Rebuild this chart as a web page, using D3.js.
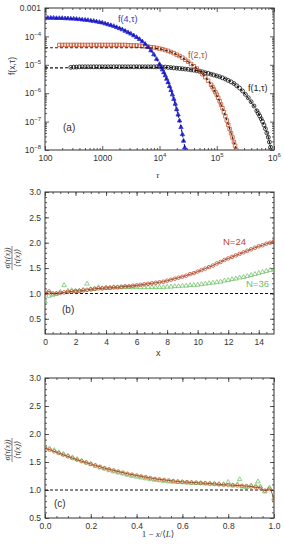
<!DOCTYPE html>
<html>
<head>
<meta charset="utf-8">
<script src="https://cdnjs.cloudflare.com/ajax/libs/d3/7.8.5/d3.min.js"></script>
<style>
    body { margin: 0; background: #fff; }
    svg { display: block; font-family: "Liberation Sans", Arial, sans-serif; }
    .tick text { fill: #333; font-size: 8.5px; }
    .domain { display: none; }
    .tick line { stroke: #333; stroke-width: 0.8; }
</style>
</head>
<body>
<svg id="chart" width="284" height="550"></svg>
<script>
// ---- panel (a): [log10 tau, log10 f]
var f4Data = [[2.05,-3.35],[2.10,-3.35],[2.15,-3.35],[2.20,-3.36],[2.25,-3.36],[2.30,-3.36],[2.35,-3.37],[2.40,-3.37],
    [2.45,-3.38],[2.50,-3.38],[2.55,-3.39],[2.60,-3.40],[2.65,-3.41],[2.70,-3.42],[2.75,-3.43],[2.80,-3.45],[2.85,-3.46],
    [2.90,-3.48],[2.95,-3.50],[3.00,-3.52],[3.05,-3.55],[3.10,-3.58],[3.15,-3.61],[3.20,-3.64],[3.25,-3.68],[3.30,-3.72],
    [3.35,-3.76],[3.40,-3.81],[3.45,-3.86],[3.50,-3.91],[3.55,-3.97],[3.60,-4.03],[3.65,-4.10],[3.70,-4.18],[3.75,-4.27],
    [3.80,-4.38],[3.85,-4.50],[3.90,-4.64],[3.95,-4.80],[4.00,-4.98],[4.025,-5.07],[4.05,-5.17],[4.075,-5.27],[4.10,-5.38],
    [4.125,-5.50],[4.15,-5.62],[4.175,-5.76],[4.20,-5.90],[4.225,-6.05],[4.25,-6.21],[4.275,-6.38],[4.30,-6.57],
    [4.325,-6.76],[4.35,-6.97],[4.375,-7.20],[4.40,-7.45],[4.42,-7.68],[4.44,-7.92]];

var f2Data = [[2.25,-4.30],[2.30,-4.30],[2.35,-4.30],[2.40,-4.30],[2.45,-4.30],[2.50,-4.30],[2.55,-4.30],[2.60,-4.30],
    [2.65,-4.30],[2.70,-4.30],[2.75,-4.30],[2.80,-4.30],[2.85,-4.30],[2.90,-4.30],[2.95,-4.30],[3.00,-4.30],[3.05,-4.30],
    [3.10,-4.30],[3.15,-4.30],[3.20,-4.30],[3.25,-4.30],[3.30,-4.30],[3.35,-4.30],[3.40,-4.30],[3.45,-4.31],[3.50,-4.31],
    [3.55,-4.32],[3.60,-4.32],[3.65,-4.33],[3.70,-4.34],[3.75,-4.35],[3.80,-4.36],[3.85,-4.38],[3.90,-4.39],[3.95,-4.41],
    [4.00,-4.43],[4.05,-4.45],[4.10,-4.48],[4.15,-4.51],[4.20,-4.55],[4.25,-4.59],[4.30,-4.64],[4.35,-4.69],[4.40,-4.75],
    [4.45,-4.82],[4.50,-4.89],[4.55,-4.97],[4.60,-5.05],[4.65,-5.13],[4.70,-5.22],[4.75,-5.33],[4.80,-5.44],[4.85,-5.56],
    [4.90,-5.70],[4.925,-5.78],[4.95,-5.87],[4.975,-5.96],[5.00,-6.05],[5.025,-6.16],[5.05,-6.28],[5.075,-6.40],
    [5.10,-6.53],[5.125,-6.67],[5.15,-6.81],[5.175,-6.96],[5.20,-7.11],[5.225,-7.26],[5.25,-7.41],[5.275,-7.56],
    [5.30,-7.72],[5.32,-7.85],[5.34,-7.99]];

var f1Data = [[2.45,-5.09],[2.50,-5.08],[2.55,-5.08],[2.60,-5.07],[2.65,-5.07],[2.70,-5.07],[2.75,-5.07],[2.80,-5.07],
    [2.85,-5.07],[2.90,-5.07],[2.95,-5.07],[3.00,-5.07],[3.05,-5.07],[3.10,-5.07],[3.15,-5.07],[3.20,-5.07],[3.25,-5.07],
    [3.30,-5.07],[3.35,-5.07],[3.40,-5.07],[3.45,-5.07],[3.50,-5.07],[3.55,-5.07],[3.60,-5.07],[3.65,-5.07],[3.70,-5.07],
    [3.75,-5.07],[3.80,-5.07],[3.85,-5.07],[3.90,-5.07],[3.95,-5.07],[4.00,-5.07],[4.05,-5.08],[4.10,-5.08],[4.15,-5.09],
    [4.20,-5.10],[4.25,-5.11],[4.30,-5.12],[4.35,-5.13],[4.40,-5.14],[4.45,-5.15],[4.50,-5.16],[4.55,-5.18],[4.60,-5.19],
    [4.65,-5.21],[4.70,-5.23],[4.75,-5.25],[4.80,-5.28],[4.85,-5.30],[4.90,-5.33],[4.95,-5.36],[5.00,-5.39],[5.05,-5.42],
    [5.10,-5.46],[5.15,-5.50],[5.20,-5.55],[5.25,-5.60],[5.30,-5.66],[5.35,-5.74],[5.40,-5.82],[5.45,-5.92],[5.50,-6.04],
    [5.55,-6.16],[5.60,-6.30],[5.65,-6.45],[5.70,-6.62],[5.725,-6.71],[5.75,-6.80],[5.775,-6.90],[5.80,-7.00],
    [5.825,-7.12],[5.85,-7.25],[5.875,-7.40],[5.90,-7.55],[5.92,-7.72],[5.94,-7.90]];

// dashed fit curves of panel (a)
var fit4 = [[2.0,-3.35],[2.5,-3.38],[3.0,-3.52],[3.5,-3.91],[3.8,-4.38],[4.0,-4.98],[4.2,-5.90],[4.3,-6.57],[4.4,-7.45],[4.46,-8.1]];
var fit2 = [[2.0,-4.40],[3.0,-4.40],[3.8,-4.40],[4.2,-4.55],[4.5,-4.89],[4.7,-5.22],[4.9,-5.70],[5.1,-6.53],[5.3,-7.72],[5.36,-8.1]];
var fit1 = [[2.0,-5.11],[3.0,-5.10],[4.0,-5.09],[4.5,-5.16],[5.0,-5.39],[5.3,-5.66],[5.5,-6.04],[5.7,-6.62],[5.8,-7.00],[5.9,-7.55],[5.96,-8.1]];

var aXTicks = [100, 1000, 1e4, 1e5, 1e6];
var aXLabels = [["100"], ["1000"], ["10", "4"], ["10", "5"], ["10", "6"]];
var aYTicks = [1e-3, 1e-4, 1e-5, 1e-6, 1e-7, 1e-8];
var aYLabels = [["0.001"], ["10", "-4"], ["10", "-5"], ["10", "-6"], ["10", "-7"], ["10", "-8"]];

// ---- panel (b): sigma/mean vs x
var bX = [0,0.25,0.5,0.75,1,1.25,1.5,1.75,2,2.25,2.5,2.75,3,3.25,3.5,3.75,4,4.25,4.5,4.75,5,5.25,5.5,5.75,6,6.25,6.5,6.75,
    7,7.25,7.5,7.75,8,8.25,8.5,8.75,9,9.25,9.5,9.75,10,10.25,10.5,10.75,11,11.25,11.5,11.75,12,12.25,12.5,12.75,13,13.25,
    13.5,13.75,14,14.25,14.5,14.75,15];
var bN24 = [1.00,1.04,1.00,1.00,1.01,1.02,1.03,1.04,1.05,1.05,1.06,1.07,1.08,1.09,1.10,1.10,1.11,1.11,1.12,1.12,1.13,1.14,
    1.14,1.15,1.16,1.17,1.18,1.19,1.20,1.21,1.22,1.23,1.25,1.27,1.29,1.31,1.33,1.35,1.38,1.40,1.43,1.46,1.49,1.52,1.55,
    1.59,1.62,1.66,1.69,1.72,1.75,1.78,1.81,1.84,1.87,1.90,1.93,1.95,1.98,2.00,2.03];
var bN36 = [0.84,0.95,0.97,0.99,1.03,1.16,1.05,1.06,1.04,1.05,1.07,1.19,1.08,1.09,1.12,1.10,1.11,1.11,1.12,1.12,1.12,1.12,
    1.12,1.12,1.12,1.12,1.12,1.12,1.12,1.12,1.12,1.12,1.13,1.13,1.14,1.14,1.15,1.15,1.16,1.16,1.17,1.18,1.19,1.20,1.21,
    1.22,1.23,1.25,1.26,1.28,1.29,1.31,1.32,1.34,1.36,1.38,1.40,1.42,1.44,1.46,1.48];

// ---- panel (c): sigma/mean vs 1 - x/<L>
var cX = [0,0.02,0.04,0.06,0.08,0.10,0.12,0.14,0.16,0.18,0.20,0.22,0.24,0.26,0.28,0.30,0.32,0.34,0.36,0.38,0.40,0.42,
    0.44,0.46,0.48,0.50,0.52,0.54,0.56,0.58,0.60,0.62,0.64,0.66,0.68,0.70,0.72,0.74,0.76,0.78,0.80,0.82,0.84,0.86,0.88,
    0.90,0.92,0.94,0.96,0.98,1.00];
var cN24 = [1.745,1.72,1.69,1.66,1.63,1.60,1.57,1.54,1.515,1.49,1.465,1.44,1.415,1.39,1.37,1.35,1.33,1.31,1.29,1.275,1.26,
    1.245,1.23,1.215,1.20,1.19,1.18,1.17,1.16,1.15,1.145,1.14,1.135,1.13,1.125,1.12,1.115,1.11,1.10,1.095,1.09,1.085,1.08,
    1.075,1.07,1.06,1.05,1.04,0.99,1.02,0.82];
var cX36 = [0,0.02,0.04,0.06,0.08,0.10,0.12,0.14,0.16,0.18,0.20,0.22,0.24,0.26,0.28,0.30,0.32,0.34,0.36,0.38,0.40,0.42,
    0.44,0.46,0.48,0.50,0.52,0.54,0.56,0.58,0.60,0.62,0.64,0.66,0.68,0.70,0.72,0.74,0.76,0.78,0.80,0.82,0.84,0.85,0.86,
    0.88,0.90,0.92,0.93,0.94,0.96,0.98,1.00];
var cN36 = [1.77,1.74,1.71,1.67,1.64,1.61,1.58,1.55,1.52,1.49,1.46,1.43,1.40,1.38,1.35,1.33,1.31,1.29,1.27,1.25,1.235,1.22,
    1.205,1.19,1.18,1.17,1.16,1.15,1.145,1.14,1.135,1.13,1.125,1.12,1.12,1.115,1.11,1.11,1.105,1.10,1.14,1.08,1.10,1.19,
    1.06,1.05,1.08,1.07,1.15,1.06,0.97,1.04,0.85];

var svg = d3.select("#chart");
var frameColor = "#333";
var mathFont = "'Liberation Serif', 'DejaVu Serif', serif";

function frame(g, x0, x1, y0, y1) {
    g.append("rect")
        .attr("x", x0).attr("y", y1)
        .attr("width", x1 - x0).attr("height", y0 - y1)
        .attr("fill", "none").attr("stroke", frameColor).attr("stroke-width", 1);
}

// draws inside ticks on all four sides, labels on bottom/left; returns the labelled axes
function ticks(g, x, y, x0, x1, y0, y1, xMaj, xMin, yMaj, yMin, xFmt, yFmt) {
    var bottom = g.append("g").attr("transform", "translate(0," + y0 + ")")
        .call(d3.axisBottom(x).tickValues(xMaj).tickSize(-4).tickPadding(5).tickFormat(xFmt));
    g.append("g").attr("transform", "translate(0," + y0 + ")")
        .call(d3.axisBottom(x).tickValues(xMin).tickSize(-2).tickFormat(""));
    g.append("g").attr("transform", "translate(0," + y1 + ")")
        .call(d3.axisTop(x).tickValues(xMaj).tickSize(-4).tickFormat(""));
    g.append("g").attr("transform", "translate(0," + y1 + ")")
        .call(d3.axisTop(x).tickValues(xMin).tickSize(-2).tickFormat(""));
    var left = g.append("g").attr("transform", "translate(" + x0 + ",0)")
        .call(d3.axisLeft(y).tickValues(yMaj).tickSize(-4).tickPadding(4).tickFormat(yFmt));
    g.append("g").attr("transform", "translate(" + x0 + ",0)")
        .call(d3.axisLeft(y).tickValues(yMin).tickSize(-2).tickFormat(""));
    g.append("g").attr("transform", "translate(" + x1 + ",0)")
        .call(d3.axisRight(y).tickValues(yMaj).tickSize(-4).tickFormat(""));
    g.append("g").attr("transform", "translate(" + x1 + ",0)")
        .call(d3.axisRight(y).tickValues(yMin).tickSize(-2).tickFormat(""));
    frame(g, x0, x1, y0, y1);
    return {bottom: bottom, left: left};
}

// power labels like 10^-4
function powerLabels(sel, labels) {
    sel.selectAll(".tick text").each(function (d, i) {
        var t = d3.select(this).text("");
        var lab = labels[i];
        t.append("tspan").text(lab[0]);
        if (lab[1]) {
            t.append("tspan").attr("dy", -4).attr("font-size", "6px").text(lab[1].replace("-", "\u2212"));
        }
    });
}

// ================= panel (a)
var ax0 = 45, ax1 = 274, ay0 = 150, ay1 = 8;
var xa = d3.scaleLog().domain([100, 1e6]).range([ax0, ax1]);
var ya = d3.scaleLog().domain([1e-8, 1e-3]).range([ay0, ay1]);
var ga = svg.append("g");
var aXMinor = [], aYMinor = [];
[100, 1000, 1e4, 1e5].forEach(function (p) { [2,3,4,5,6,7,8,9].forEach(function (k) { aXMinor.push(p * k); }); });
[1e-8, 1e-7, 1e-6, 1e-5, 1e-4].forEach(function (p) { [2,3,4,5,6,7,8,9].forEach(function (k) { aYMinor.push(p * k); }); });
var axA = ticks(ga, xa, ya, ax0, ax1, ay0, ay1, aXTicks, aXMinor, aYTicks, aYMinor,
    function () { return ""; }, function () { return ""; });
powerLabels(axA.bottom, aXLabels);
powerLabels(axA.left, aYLabels);

svg.append("defs").append("clipPath").attr("id", "clipA")
    .append("rect").attr("x", ax0).attr("y", ay1).attr("width", ax1 - ax0).attr("height", ay0 - ay1);
var plotA = ga.append("g").attr("clip-path", "url(#clipA)");

var lineA = d3.line()
    .x(function (d) { return xa(Math.pow(10, d[0])); })
    .y(function (d) { return ya(Math.pow(10, d[1])); })
    .curve(d3.curveMonotoneX);

function markers(g, data, xs, ys, type, size, fill, stroke) {
    g.selectAll(null).data(data).enter().append("path")
        .attr("d", d3.symbol().type(type).size(size))
        .attr("transform", function (d) { return "translate(" + xs(d) + "," + ys(d) + ")"; })
        .attr("fill", fill).attr("stroke", stroke).attr("stroke-width", 0.8);
}

var pxA = function (d) { return xa(Math.pow(10, d[0])); };
var pyA = function (d) { return ya(Math.pow(10, d[1])); };

markers(plotA, f1Data, pxA, pyA, d3.symbolCircle, 12, "none", "#111");
markers(plotA, f2Data, pxA, pyA, d3.symbolSquare, 12, "none", "#c8522e");
markers(plotA, f4Data, pxA, pyA, d3.symbolTriangle, 8, "#2b2be0", "#2b2be0");

plotA.append("path").datum(fit1).attr("d", lineA).attr("fill", "none")
    .attr("stroke", "#111").attr("stroke-width", 1.1).attr("stroke-dasharray", "3,2");
plotA.append("path").datum(fit2).attr("d", lineA).attr("fill", "none")
    .attr("stroke", "#3a2010").attr("stroke-width", 1.1).attr("stroke-dasharray", "3,2");
plotA.append("path").datum(fit4).attr("d", lineA).attr("fill", "none")
    .attr("stroke", "#14148a").attr("stroke-width", 1.1).attr("stroke-dasharray", "3,2");

function label(x, y, txt, color, size, italic) {
    return svg.append("text").attr("x", x).attr("y", y).attr("fill", color)
        .attr("font-size", size + "px").attr("font-style", italic ? "italic" : "normal").text(txt);
}
label(118, 22, "f(4,\u03C4)", "#3434c8", 9);
label(188, 58, "f(2,\u03C4)", "#a0583a", 9);
label(248, 91, "f(1,\u03C4)", "#222", 9);
label(63, 131, "(a)", "#333", 10);
label(156, 178, "\u03C4", "#333", 9, true).attr("font-family", mathFont);
svg.append("text").attr("transform", "translate(15,66) rotate(-90)").attr("text-anchor", "middle")
    .attr("font-size", "8.5px").attr("fill", "#333").text("f(x,\u03C4)");

// fraction label sigma(tau(x)) / <tau(x)>
function fracLabel(cx, cy) {
    var g = svg.append("g").attr("transform", "translate(" + cx + "," + cy + ") rotate(-90)")
        .attr("font-family", mathFont).attr("font-style", "italic").attr("font-size", "8px").attr("fill", "#333");
    g.append("text").attr("text-anchor", "middle").attr("y", -2).text("\u03C3(\u03C4(x))");
    g.append("line").attr("x1", -12).attr("x2", 12).attr("y1", 0).attr("y2", 0).attr("stroke", "#333").attr("stroke-width", 0.6);
    g.append("text").attr("text-anchor", "middle").attr("y", 7.5).text("\u27E8\u03C4(x)\u27E9");
}

var fmt1 = d3.format(".1f");

// ================= panel (b)
var bx0 = 45, bx1 = 274, by0 = 334, by1 = 192;
var xb = d3.scaleLinear().domain([0, 15]).range([bx0, bx1]);
var yb = d3.scaleLinear().domain([0.2, 3.0]).range([by0, by1]);
var gb = svg.append("g");
ticks(gb, xb, yb, bx0, bx1, by0, by1,
    [0, 2, 4, 6, 8, 10, 12, 14], d3.range(0.5, 15, 0.5),
    [0.5, 1.0, 1.5, 2.0, 2.5, 3.0], d3.range(0.3, 3.0, 0.1),
    d3.format("d"), fmt1);
svg.append("defs").append("clipPath").attr("id", "clipB")
    .append("rect").attr("x", bx0).attr("y", by1).attr("width", bx1 - bx0).attr("height", by0 - by1);
var plotB = gb.append("g").attr("clip-path", "url(#clipB)");
plotB.append("line").attr("x1", bx0).attr("x2", bx1).attr("y1", yb(1)).attr("y2", yb(1))
    .attr("stroke", "#111").attr("stroke-width", 1.1).attr("stroke-dasharray", "3,2");

var bData24 = bX.map(function (v, i) { return [v, bN24[i]]; });
var bData36 = bX.map(function (v, i) { return [v, bN36[i]]; });
var pxB = function (d) { return xb(d[0]); }, pyB = function (d) { return yb(d[1]); };
markers(plotB, bData36, pxB, pyB, d3.symbolTriangle, 9, "none", "#74c46c");
plotB.append("path").datum(bData24).attr("d", d3.line().x(pxB).y(pyB).curve(d3.curveMonotoneX))
    .attr("fill", "none").attr("stroke", "#5a3418").attr("stroke-width", 0.8);
markers(plotB, bData24, pxB, pyB, d3.symbolCircle, 10, "none", "#cc4a2c");

label(223, 245, "N=24", "#b8452c", 9.5);
label(246, 287, "N=36", "#6cc070", 9.5);
label(62, 313, "(b)", "#333", 10);
label(156, 356, "x", "#333", 9);
fracLabel(12, 258);

// ================= panel (c)
var cx0 = 45, cx1 = 274, cy0 = 518, cy1 = 378;
var xc = d3.scaleLinear().domain([0, 1]).range([cx0, cx1]);
var yc = d3.scaleLinear().domain([0.5, 3.0]).range([cy0, cy1]);
var gc = svg.append("g");
ticks(gc, xc, yc, cx0, cx1, cy0, cy1,
    [0, 0.2, 0.4, 0.6, 0.8, 1.0], d3.range(0.05, 1, 0.05),
    [0.5, 1.0, 1.5, 2.0, 2.5, 3.0], d3.range(0.6, 3.0, 0.1),
    fmt1, fmt1);
svg.append("defs").append("clipPath").attr("id", "clipC")
    .append("rect").attr("x", cx0).attr("y", cy1).attr("width", cx1 - cx0).attr("height", cy0 - cy1);
var plotC = gc.append("g").attr("clip-path", "url(#clipC)");
plotC.append("line").attr("x1", cx0).attr("x2", cx1).attr("y1", yc(1)).attr("y2", yc(1))
    .attr("stroke", "#111").attr("stroke-width", 1.1).attr("stroke-dasharray", "3,2");

var cData24 = cX.map(function (v, i) { return [v, cN24[i]]; });
var cData36 = cX36.map(function (v, i) { return [v, cN36[i]]; });
var pxC = function (d) { return xc(d[0]); }, pyC = function (d) { return yc(d[1]); };
markers(plotC, cData36, pxC, pyC, d3.symbolTriangle, 9, "none", "#74c46c");
plotC.append("path").datum(cData24).attr("d", d3.line().x(pxC).y(pyC).curve(d3.curveMonotoneX))
    .attr("fill", "none").attr("stroke", "#5a3418").attr("stroke-width", 0.8);
markers(plotC, cData24, pxC, pyC, d3.symbolCircle, 10, "none", "#d4622c");

label(54, 507, "(c)", "#333", 10);
fracLabel(12, 450);
var xl = svg.append("text").attr("x", 158).attr("y", 537).attr("text-anchor", "middle")
    .attr("font-family", mathFont).attr("font-size", "9px").attr("fill", "#333");
xl.append("tspan").text("1 \u2212 ");
xl.append("tspan").attr("font-style", "italic").text("x");
xl.append("tspan").text("/\u27E8");
xl.append("tspan").attr("font-style", "italic").text("L");
xl.append("tspan").text("\u27E9");
</script>
</body>
</html>
